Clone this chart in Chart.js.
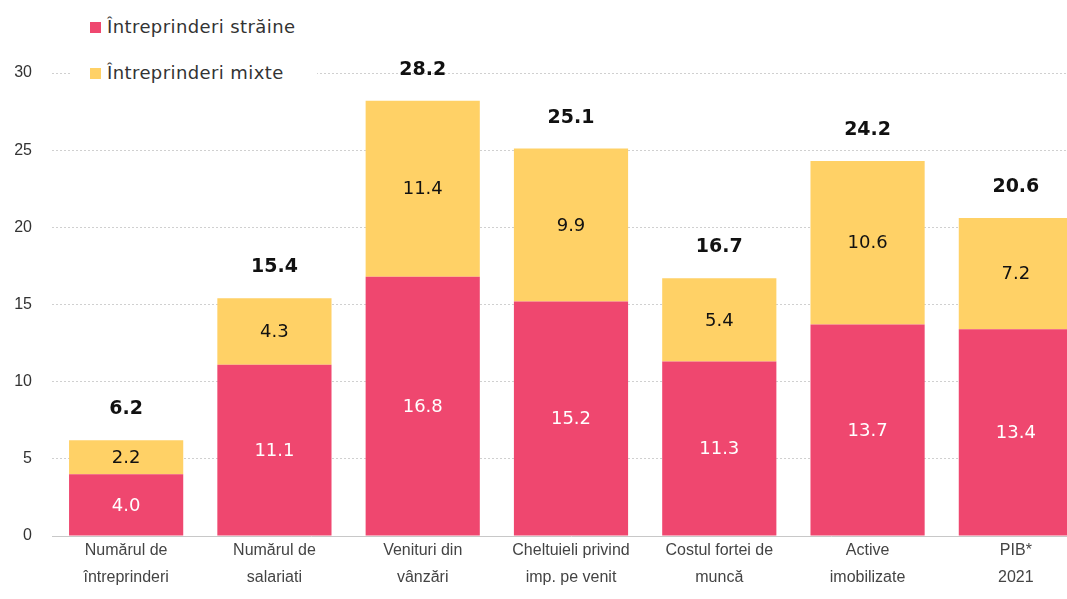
<!DOCTYPE html>
<html>
<head>
<meta charset="utf-8">
<script src="https://cdn.jsdelivr.net/npm/chart.js@4/dist/chart.umd.min.js"></script>
<style>
  html, body { margin: 0; padding: 0; background: #fff; overflow: hidden; }
  #wrap { position: relative; width: 1090px; height: 599px; }
  #legend { position: absolute; left: 72px; top: 12px; background: #fff; padding: 0 22px 0 18px;
            font-family: "DejaVu Sans", sans-serif; font-size: 18px; letter-spacing: 0.4px; color: #333; }
  .row { height: 46px; line-height: 30px; display: flex; align-items: flex-start; }
  .row:last-child { height: 32px; }
  .sw { width: 11px; height: 11px; display: inline-block; margin-right: 6px; margin-top: 10px; }
</style>
</head>
<body>
<div id="wrap">
  <canvas id="chart" width="1090" height="599"></canvas>
  <div id="legend">
    <div class="row"><span class="sw" style="background:#EF476F"></span>Întreprinderi străine</div>
    <div class="row"><span class="sw" style="background:#FFD166"></span>Întreprinderi mixte</div>
  </div>
</div>
<script>
// date
const categorii = [
  ['Numărul de', 'întreprinderi'],
  ['Numărul de', 'salariati'],
  ['Venituri din', 'vânzări'],
  ['Cheltuieli privind', 'imp. pe venit'],
  ['Costul fortei de', 'muncă'],
  ['Active', 'imobilizate'],
  ['PIB*', '2021']
];
const straine = [4.0, 11.1, 16.8, 15.2, 11.3, 13.7, 13.4];
const mixte = [2.2, 4.3, 11.4, 9.9, 5.4, 10.6, 7.2];
const totaluri = [6.2, 15.4, 28.2, 25.1, 16.7, 24.2, 20.6];
const yTicks = [0, 5, 10, 15, 20, 25, 30];

const ROSU = '#EF476F';
const GALBEN = '#FFD166';

// etichete pe bare + totaluri
const etichete = {
  id: 'etichete',
  afterDatasetsDraw(chart) {
    const ctx = chart.ctx;
    ctx.save();
    ctx.textAlign = 'center';
    ctx.textBaseline = 'middle';
    chart.data.datasets.forEach((ds, i) => {
      const meta = chart.getDatasetMeta(i);
      meta.data.forEach((bar, j) => {
        const mid = (bar.y + bar.base) / 2;
        ctx.font = '18px "DejaVu Sans", sans-serif';
        ctx.fillStyle = i === 0 ? '#fff' : '#111';
        ctx.fillText(ds.data[j].toFixed(1), bar.x, mid + 1);
      });
    });
    const top = chart.getDatasetMeta(1);
    top.data.forEach((bar, j) => {
      ctx.font = 'bold 19px "DejaVu Sans", sans-serif';
      ctx.fillStyle = '#111';
      ctx.fillText(totaluri[j].toFixed(1), bar.x, bar.y - 31);
    });
    ctx.restore();
  }
};

new Chart(document.getElementById('chart'), {
  type: 'bar',
  data: {
    labels: categorii,
    datasets: [
      { label: 'Întreprinderi străine', data: straine, backgroundColor: ROSU,
        categoryPercentage: 1, barPercentage: 0.77 },
      { label: 'Întreprinderi mixte', data: mixte, backgroundColor: GALBEN,
        categoryPercentage: 1, barPercentage: 0.77 }
    ]
  },
  options: {
    responsive: false,
    animation: false,
    layout: { padding: { top: 73, right: 0, left: 0, bottom: 0 } },
    plugins: { legend: { display: false }, tooltip: { enabled: false } },
    scales: {
      x: {
        stacked: true,
        afterFit: s => { s.height = 63; },
        grid: { display: false },
        border: { display: true, color: '#c8c8c8', width: 1 },
        ticks: { color: '#444', font: { family: '"Liberation Sans", sans-serif', size: 16, lineHeight: 1.7 }, padding: -7, maxRotation: 0 }
      },
      y: {
        stacked: true,
        min: 0, max: 30,
        afterBuildTicks: s => { s.ticks = yTicks.map(v => ({ value: v })); },
        afterFit: s => { s.width = 52; },
        grid: { color: '#d0d0d0', drawTicks: false },
        border: { display: false, dash: [2, 2] },
        ticks: { color: '#333', font: { family: '"Liberation Sans", sans-serif', size: 16 }, padding: 20 }
      }
    }
  },
  plugins: [etichete]
});
</script>
</body>
</html>
